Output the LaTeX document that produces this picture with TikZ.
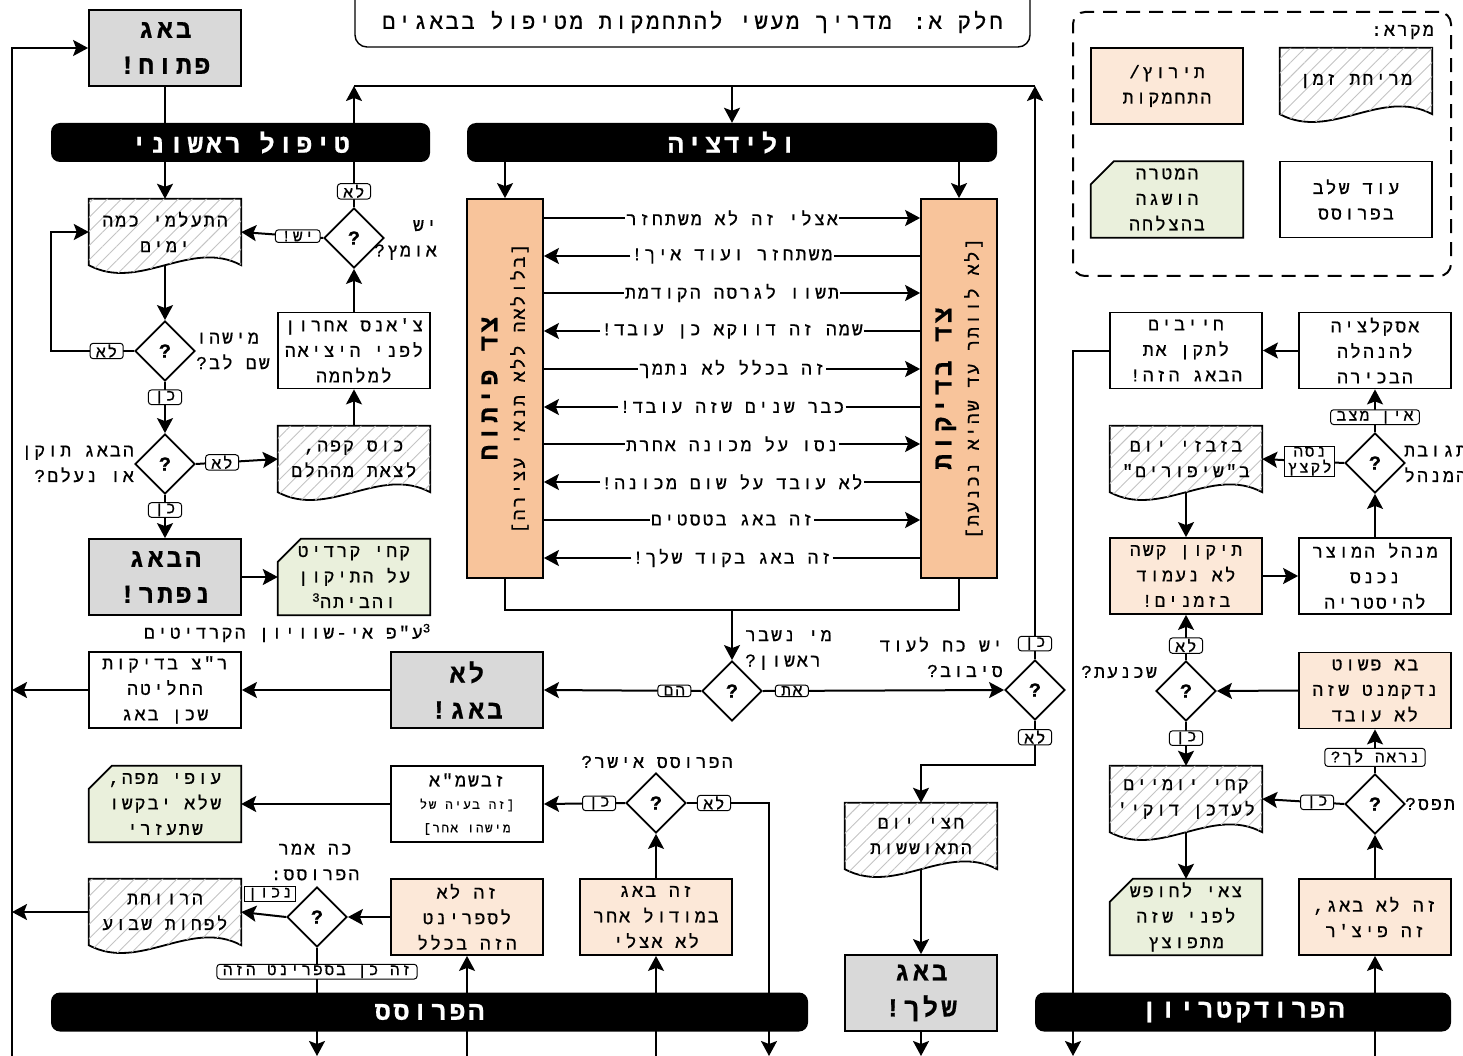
\documentclass[tikz,border=0pt]{standalone}
\usepackage{fontspec}
\setmainfont{Liberation Mono}
\newfontfamily\hbf{Liberation Mono}[LetterSpace=12,FakeBold=0.6]
\newfontfamily\hbl{Liberation Mono}[LetterSpace=12,FakeBold=0.5]
\TeXXeTstate=1
\usetikzlibrary{arrows.meta,calc,patterns.meta,shapes.geometric}
\pgfdeclarelayer{bg}
\pgfsetlayers{bg,main}
\newcommand\heb[1]{\beginR #1\endR}
\definecolor{grayc}{HTML}{D9D9D9}
\definecolor{peachd}{HTML}{F8C49B}
\definecolor{peach}{HTML}{FCE8D8}
\definecolor{greenc}{HTML}{EAF0DC}
\definecolor{hatchc}{HTML}{C4C4C4}
\tikzset{
  base/.style={font=\hbf\fontsize{18}{25.5}\selectfont, align=center, inner sep=0pt},
  box/.style={base, draw, line width=1.8pt, minimum width=152pt, minimum height=76pt},
  gbox/.style={box, fill=grayc, font=\hbf\bfseries\fontsize{26}{36}\selectfont},
  pbox/.style={box, fill=peach},
  goal/.style={base, minimum width=152pt, minimum height=76pt},
  docn/.style={base, minimum width=152pt, minimum height=66pt},
  dia/.style={diamond, draw, line width=1.8pt, fill=white, minimum width=60pt, minimum height=60pt, inner sep=0pt, font=\hbf\bfseries\fontsize{20}{20}\selectfont},
  hdr/.style={fill=black, rounded corners=9pt, text=white, font=\hbf\bfseries\fontsize{26}{30}\selectfont, minimum height=39pt, inner sep=0pt},
  lbl/.style={draw, fill=white, rounded corners=3pt, line width=1pt, font=\hbl\fontsize{16}{16}\selectfont, inner xsep=6pt, inner ysep=1pt, align=center},
  lblsq/.style={lbl, rounded corners=0pt, inner xsep=3pt},
  small/.style={font=\hbf\fontsize{12.5}{20}\selectfont},
  ln/.style={line width=2pt},
  arr/.style={line width=2pt, -{Stealth[length=15pt,width=16pt,inset=3pt]}},
  docfill/.style={draw, line width=1.8pt, fill=white, postaction={pattern={Lines[angle=45,distance=10pt,line width=0.9pt]}, pattern color=hatchc}},
  goalst/.style={draw, line width=1.8pt, fill=greenc},
  txt/.style={base},
}
\newcommand\docout[1]{%
  \begin{pgfonlayer}{bg}
  \path[docfill] (#1.north west) -- (#1.north east) -- (#1.south east)
    .. controls ($(#1.south east)!0.333!(#1.south west)+(0,-27)$) and ($(#1.south east)!0.667!(#1.south west)+(0,27)$) .. (#1.south west) -- cycle;
  \end{pgfonlayer}}
\newcommand\goalout[1]{%
  \begin{pgfonlayer}{bg}
  \path[goalst] ($(#1.north west)+(23,0)$) -- (#1.north east) -- (#1.south east) -- (#1.south west) -- ($(#1.north west)+(0,23)$) -- cycle;
  \end{pgfonlayer}}
\newcommand\rowR[3]{%
  \node[base, fill=white, inner xsep=1pt, inner ysep=2pt] (#1) at (732,#2) {#3};
  \draw[ln] (dev.east |- #1) -- (#1.west);
  \draw[arr] (#1.east) -- (test.west |- #1);}
\newcommand\rowL[3]{%
  \node[base, fill=white, inner xsep=1pt, inner ysep=2pt] (#1) at (732,#2) {#3};
  \draw[arr] (#1.west) -- (dev.east |- #1);
  \draw[ln] (#1.east) -- (test.west |- #1);}
\begin{document}
\begin{tikzpicture}[x=1pt,y=-1pt]
\useasboundingbox (0,0) rectangle (1463,1056);
% title
\node[draw, line width=1.4pt, rounded corners=12pt, minimum width=675pt, minimum height=70pt] (title) at (692.5,12) {};
\node[font=\hbf\fontsize{22}{26}\selectfont, inner sep=0pt] (titletxt) at (692.5,22) {\heb{חלק א: מדריך מעשי להתחמקות מטיפול בבאגים}};
% legend
\node[draw, line width=2pt, dash pattern=on 14pt off 9pt, rounded corners=12pt, minimum width=378pt, minimum height=264pt] (leg) at (1262,144) {};
\node[txt, anchor=east] (legt) at (1434,32) {\heb{מקרא:}};
\node[docn] (l1) at (1356,81) {\heb{מריחת זמן}}; \docout{l1}
\node[pbox] (l2) at (1167,86) {\heb{תירוץ/}\\\heb{התחמקות}};
\node[box] (l3) at (1356,199.5) {\heb{עוד שלב}\\\heb{בפרוסס}};
\node[goal] (l4) at (1167,199.5) {\heb{המטרה}\\\heb{הושגה}\\\heb{בהצלחה}}; \goalout{l4}
% headers
\node[hdr, minimum width=379pt] (hT) at (240.5,142.5) {\heb{טיפול ראשוני}};
\node[hdr, minimum width=530pt] (hV) at (732,142.5) {\heb{ולידציה}};
% left column
\node[gbox] (open) at (165,48) {\heb{באג}\\\heb{פתוח!}};
\node[docn] (ign) at (165,232) {\heb{התעלמי כמה}\\\heb{ימים}}; \docout{ign}
\node[dia] (dC) at (354,238) {?};
\node[box] (chance) at (354,350.5) {\heb{צ'אנס אחרון}\\\heb{לפני היציאה}\\\heb{למלחמה}};
\node[docn] (coffee) at (354,459) {\heb{כוס קפה,}\\\heb{לצאת מההלם}}; \docout{coffee}
\node[dia] (dN) at (165,351) {?};
\node[dia] (dF) at (165,464) {?};
\node[gbox] (solved) at (165,577) {\heb{הבאג}\\\heb{נפתר!}};
\node[goal] (credit) at (354,577) {\heb{קחי קרדיט}\\\heb{על התיקון}\\\heb{והביתה\textsuperscript{3}}}; \goalout{credit}
\node[txt, anchor=east] (fn) at (431,633) {\heb{\textsuperscript{3}ע"פ אי-שוויון הקרדיטים}};
\node[txt, anchor=east, align=right] (q1) at (437,240) {\heb{יש}\\\heb{אומץ?}};
\node[txt, anchor=west, align=left] (q2) at (196,351) {\heb{מישהו}\\\heb{שם לב?}};
\node[txt, anchor=east, align=right] (q3) at (134,464) {\heb{הבאג תוקן}\\\heb{או נעלם?}};
% validation
\node[box, fill=peachd, minimum width=76pt, minimum height=379pt] (dev) at (505,388.5) {};
\node[base, rotate=90] (devt) at (505,388.5) {{\bfseries\fontsize{26}{30}\selectfont\heb{צד פיתוח}}\\[2pt]\heb{[בלולאה ללא תנאי עצירה]}};
\node[box, fill=peachd, minimum width=76pt, minimum height=379pt] (test) at (959,388.5) {};
\node[base, rotate=90] (testt) at (959,388.5) {{\bfseries\fontsize{26}{30}\selectfont\heb{צד בדיקות}}\\[2pt]\heb{[לא לוותר עד שהיא נכנעת]}};
\rowR{m1}{218}{\heb{אצלי זה לא משתחזר}}
\rowL{m2}{256}{\heb{משתחזר ועוד איך!}}
\rowR{m3}{293}{\heb{תשוו לגרסה הקודמת}}
\rowL{m4}{331}{\heb{שמה זה דווקא כן עובד!}}
\rowR{m5}{369}{\heb{זה בכלל לא נתמך}}
\rowL{m6}{407}{\heb{כבר שנים שזה עובד!}}
\rowR{m7}{444}{\heb{נסו על מכונה אחרת}}
\rowL{m8}{482}{\heb{לא עובד על שום מכונה!}}
\rowR{m9}{520}{\heb{זה באג בטסטים}}
\rowL{m10}{558}{\heb{זה באג בקוד שלך!}}
% middle
\node[box] (rz) at (165,690) {\heb{ר"צ בדיקות}\\\heb{החליטה}\\\heb{שכן באג}};
\node[gbox] (notbug) at (467,690) {\heb{לא}\\\heb{באג!}};
\node[dia] (dW) at (732,691) {?};
\node[dia] (dA) at (1035,690) {?};
\node[txt, anchor=west, align=left] (q4) at (745,650) {\heb{מי נשבר}\\\heb{ראשון?}};
\node[txt, anchor=east, align=right] (q5) at (1003,657) {\heb{יש כח לעוד}\\\heb{סיבוב?}};
\node[docn] (recover) at (921,836) {\heb{חצי יום}\\\heb{התאוששות}}; \docout{recover}
\node[gbox] (yours) at (921,993) {\heb{באג}\\\heb{שלך!}};
% process area
\node[box, minimum height=76pt] (zb) at (467,804) {};
\node[txt] (zbt) at (467,780) {\heb{זבשמ"א}};
\node[txt, small] (zbs1) at (467,805) {\heb{[זה בעיה של}};
\node[txt, small] (zbs2) at (467,829) {\heb{מישהו אחר]}};
\node[goal] (fly) at (165,804) {\heb{עופי מפה,}\\\heb{שלא יבקשו}\\\heb{שתעזרי}}; \goalout{fly}
\node[dia] (dAp) at (656,803) {?};
\node[txt] (q6) at (657,762) {\heb{הפרוסס אישר?}};
\node[pbox] (other) at (656,917) {\heb{זה באג}\\\heb{במודול אחר}\\\heb{לא אצלי}};
\node[pbox] (nsp) at (467,917) {\heb{זה לא}\\\heb{לספרינט}\\\heb{הזה בכלל}};
\node[dia] (dS) at (317,917) {?};
\node[txt] (q7) at (315,862) {\heb{כה אמר}\\\heb{הפרוסס:}};
\node[docn] (gain) at (165,912) {\heb{הרווחת}\\\heb{לפחות שבוע}}; \docout{gain}
% right column
\node[box] (esc) at (1375,350.5) {\heb{אסקלציה}\\\heb{להנהלה}\\\heb{הבכירה}};
\node[box] (must) at (1186,350.5) {\heb{חייבים}\\\heb{לתקן את}\\\heb{הבאג הזה!}};
\node[dia] (dM) at (1375,463) {?};
\node[txt, anchor=west, align=left] (q8) at (1404,464) {\heb{תגובת}\\\heb{המנהל}};
\node[docn] (waste) at (1186,459) {\heb{בזבזי יום}\\\heb{ב"שיפורים"}}; \docout{waste}
\node[pbox] (hard) at (1186,576) {\heb{תיקון קשה}\\\heb{לא נעמוד}\\\heb{בזמנים!}};
\node[box] (pm) at (1375,576) {\heb{מנהל המוצר}\\\heb{נכנס}\\\heb{להיסטריה}};
\node[dia] (dCv) at (1186,691) {?};
\node[txt, anchor=east] (q9) at (1157,672) {\heb{שכנעת?}};
\node[pbox] (docu) at (1375,690.5) {\heb{בא פשוט}\\\heb{נדקמנט שזה}\\\heb{לא עובד}};
\node[docn] (two) at (1186,799) {\heb{קחי יומיים}\\\heb{לעדכן דוקי'}}; \docout{two}
\node[goal] (vac) at (1186,917) {\heb{צאי לחופש}\\\heb{לפני שזה}\\\heb{מתפוצץ}}; \goalout{vac}
\node[dia] (dCa) at (1375,804) {?};
\node[txt, anchor=west] (q10) at (1405,804) {\heb{תפס?}};
\node[pbox] (feat) at (1375,917) {\heb{זה לא באג,}\\\heb{זה פיצ'ר}};
% coordinates
\coordinate (jl) at (354,86);
\coordinate (jm) at (732,86);
\coordinate (jr) at (1035,86);
\coordinate (jb) at (732,610);
\coordinate (jA) at (1035,765);
\coordinate (jAp) at (769,803);
\coordinate (loopL) at (51,351);
\coordinate (Lb) at (12,1056);
\coordinate (b317) at (317,1056);
\coordinate (b467) at (467,1056);
\coordinate (b656) at (656,1056);
\coordinate (b769) at (769,1056);
\coordinate (b922) at (921,1056);
\coordinate (b1073) at (1073,1056);
\coordinate (b1375) at (1375,1056);
% connectors
\draw[ln] (open.south) -- (open.south |- hT.north);
\draw[arr] (ign.north |- hT.south) -- (ign.north);
\draw[arr] (ign.south) -- (dN.north);
\draw[arr] (dN.west) -- node[lbl, pos=0.33]{\heb{לא}} (loopL) |- (ign.west);
\draw[arr] (dN.south) -- node[lbl, pos=0.3]{\heb{כן}} (dF.north);
\draw[arr] (dF.east) -- node[lbl, pos=0.32]{\heb{לא}} (coffee.west);
\draw[arr] (dF.south) -- node[lbl, pos=0.35]{\heb{כן}} (solved.north);
\draw[arr] (solved.east) -- (credit.west);
\draw[arr] (coffee.north) -- (chance.south);
\draw[arr] (chance.north) -- (dC.south);
\draw[arr] (dC.west) -- node[lbl, pos=0.31]{\heb{יש!}} (ign.east);
\draw[arr] (dC.north) -- node[lbl, pos=0.13]{\heb{לא}} (jl);
\draw[ln] (jl) -- (jr);
\draw[arr] (jm) -- (hV.north);
\draw[arr] (dev.north |- hV.south) -- (dev.north);
\draw[arr] (test.north |- hV.south) -- (test.north);
\draw[ln] (dev.south) |- (jb) -| (test.south);
\draw[arr] (jb) -- (dW.north);
\draw[arr] (dW.west) -- node[lbl, pos=0.17]{\heb{הם}} (notbug.east);
\draw[arr] (dW.east) -- node[lbl, pos=0.12]{\heb{את}} (dA.west);
\draw[arr] (dA.north) -- node[lbl, pos=0.027]{\heb{כן}} (jr);
\draw[arr] (dA.south) -- node[lbl, pos=0.37]{\heb{לא}} (jA) -| (recover.north);
\draw[arr] (recover.south) -- (yours.north);
\draw[arr] (yours.south) -- (b922);
\draw[arr] (notbug.west) -- (rz.east);
\draw[arr] (rz.west) -- (Lb |- rz.west);
\draw[arr] (Lb) |- (open.west);
\draw[arr] (dAp.west) -- node[lbl, pos=0.32]{\heb{כן}} (zb.east);
\draw[arr] (dAp.east) -- node[lbl, pos=0.33]{\heb{לא}} (jAp) -- (b769);
\draw[arr] (other.north) -- (dAp.south);
\draw[arr] (b656) -- (other.south);
\draw[arr] (zb.west) -- (fly.east);
\draw[arr] (b467) -- (nsp.south);
\draw[arr] (nsp.west) -- (dS.east);
\draw[arr] (dS.west) -- node[lblsq, pos=0.36, yshift=21pt]{\heb{נכון}} (gain.east);
\draw[arr] (dS.south) -- node[lbl, pos=0.22]{\heb{זה כן בספרינט הזה}} (b317);
\draw[arr] (gain.west) -- (Lb |- gain.west);
\draw[arr] (esc.west) -- (must.east);
\draw[arr] (must.west) -| (b1073);
\draw[arr] (dM.north) -- node[lbl, pos=0.35]{\heb{אין מצב}} (esc.south);
\draw[arr] (dM.west) -- node[lblsq, pos=0.42]{\heb{נסה}\\\heb{לקצץ}} (waste.east);
\draw[arr] (waste.south) -- (hard.north);
\draw[arr] (hard.east) -- (pm.west);
\draw[arr] (pm.north) -- (dM.south);
\draw[arr] (dCv.north) -- node[lbl, pos=0.32]{\heb{לא}} (hard.south);
\draw[arr] (docu.west) -- (dCv.east);
\draw[arr] (dCv.south) -- node[lbl, pos=0.37]{\heb{כן}} (two.north);
\draw[arr] (two.south) -- (vac.north);
\draw[arr] (dCa.west) -- node[lbl, pos=0.33]{\heb{כן}} (two.east);
\draw[arr] (dCa.north) -- node[lbl, pos=0.36]{\heb{נראה לך?}} (docu.south);
\draw[arr] (feat.north) -- (dCa.south);
\draw[arr] (b1375) -- (feat.south);
% bottom headers (drawn over the lines that pass through them)
\node[hdr, minimum width=757pt] (hP) at (429.5,1012) {\heb{הפרוסס}};
\node[hdr, minimum width=416pt] (hR) at (1243,1012) {\heb{הפרודקטריון}};
\end{tikzpicture}
\end{document}
